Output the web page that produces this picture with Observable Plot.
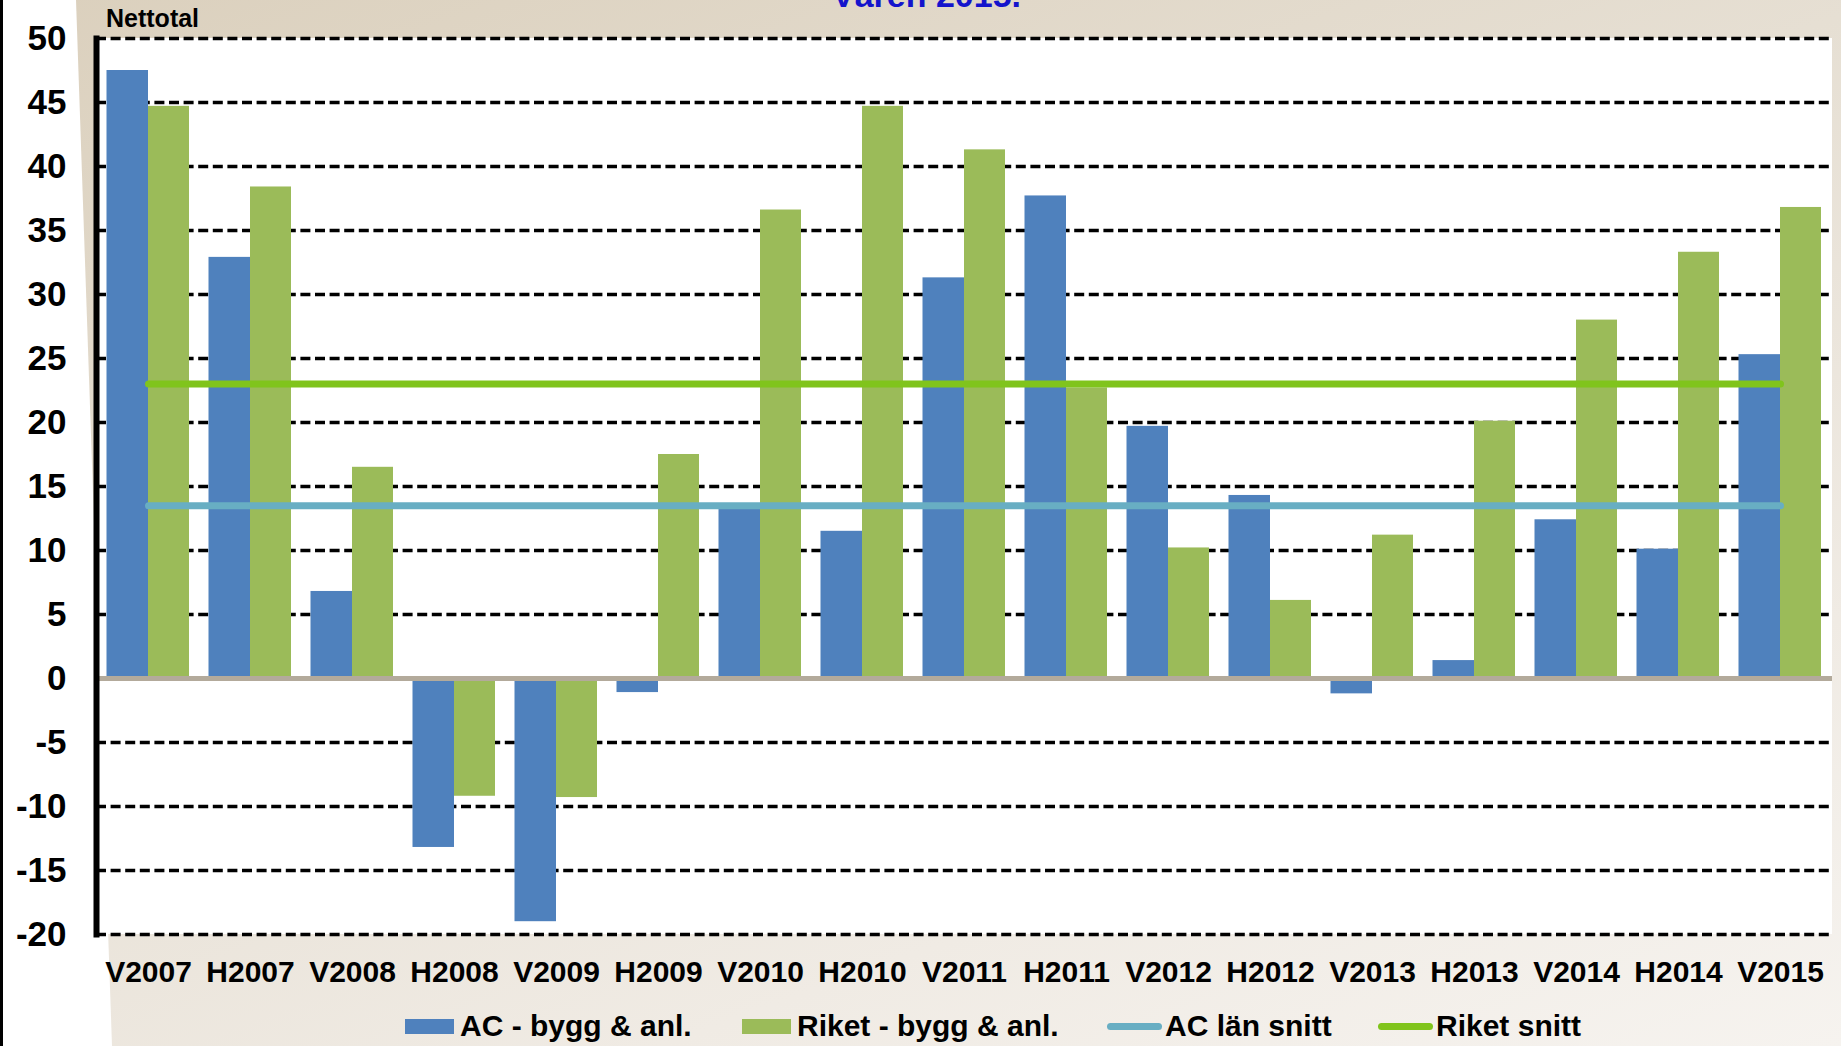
<!DOCTYPE html>
<html>
<head>
<meta charset="utf-8">
<script src="https://cdn.jsdelivr.net/npm/d3@7"></script>
<script src="https://cdn.jsdelivr.net/npm/@observablehq/plot@0.6"></script>
<style>
  html, body { margin: 0; padding: 0; }
  body { width: 1841px; height: 1046px; overflow: hidden; position: relative; background: #fff;
         font-family: "Liberation Sans", Arial, sans-serif; }
  #bg { position: absolute; left: 0; top: 0; width: 1841px; height: 1046px;
        background: linear-gradient(160deg, #dbd0bd 0%, #e6dfd3 40%, #f0ebe4 75%, #f6f3ef 100%);
        clip-path: polygon(76px 0, 1841px 0, 1841px 1046px, 112px 1046px); }
  #plotbg { position: absolute; left: 96px; top: 38px; width: 1736px; height: 896px; background: #fff; }
  #leftline { position: absolute; left: 0; top: 0; width: 3px; height: 1046px; background: #000; }
  #chart { position: absolute; left: 0; top: 0; }
  .txt { position: absolute; font-weight: bold; line-height: 1; white-space: nowrap; }
  .sw { position: absolute; }
</style>
</head>
<body>
<div id="bg"></div>
<div id="plotbg"></div>
<div id="leftline"></div>
<div id="chart"></div>
<div class="txt" style="left:832px; top:-22px; font-size:34px; color:#1414cc;">Våren 2015.</div>
<div class="txt" style="left:106px; top:6px; font-size:25px; color:#000;">Nettotal</div>
<div id="legend"></div>
<script>
const categories = ["V2007","H2007","V2008","H2008","V2009","H2009","V2010","H2010","V2011","H2011","V2012","H2012","V2013","H2013","V2014","H2014","V2015"];
const acValues    = [47.5, 32.9, 6.8, -13.2, -19.0, -1.1, 13.3, 11.5, 31.3, 37.7, 19.7, 14.3, -1.2, 1.4, 12.4, 10.1, 25.3];
const riketValues = [44.7, 38.4, 16.5, -9.2, -9.3, 17.5, 36.6, 44.7, 41.3, 22.7, 10.2, 6.1, 11.2, 20.1, 28.0, 33.3, 36.8];
const acMean = 13.5;
const riketMean = 23.0;
const yTicks = [-20, -15, -10, -5, 0, 5, 10, 15, 20, 25, 30, 35, 40, 45, 50];
const seriesNames = ["AC - bygg & anl.", "Riket - bygg & anl.", "AC län snitt", "Riket snitt"];

const blue = "#4f81bd", green = "#9bbb59", acLine = "#68aec3", riketLine = "#80c41c";

const data = categories.map((c, i) => ({cat: c, ac: acValues[i], riket: riketValues[i]}));

const chart = Plot.plot({
  width: 1841,
  height: 1046,
  marginLeft: 96,
  marginRight: 9,
  marginTop: 38,
  marginBottom: 112,
  style: {background: "transparent", overflow: "visible", fontFamily: "'Liberation Sans', Arial, sans-serif", fontWeight: "bold", color: "#000"},
  x: {type: "band", domain: categories, padding: 0},
  y: {domain: [-20, 50]},
  marks: [
    Plot.ruleY(yTicks.filter(d => d !== 0), {stroke: "#000", strokeWidth: 3.5, strokeDasharray: "10,4.6"}),
    Plot.barY(data, {x: "cat", y: "ac", fill: blue, insetLeft: 9.5, insetRight: 51}),
    Plot.barY(data, {x: "cat", y: "riket", fill: green, insetLeft: 51, insetRight: 10}),
    Plot.ruleY([0], {stroke: "#b3aa9b", strokeWidth: 5}),
    Plot.lineY(categories, {x: d => d, y: () => acMean, stroke: acLine, strokeWidth: 7, strokeLinecap: "round"}),
    Plot.lineY(categories, {x: d => d, y: () => riketMean, stroke: riketLine, strokeWidth: 7, strokeLinecap: "round"}),
    Plot.frame({anchor: "left", stroke: "#000", strokeWidth: 6}),
    Plot.axisY({ticks: yTicks, tickSize: 0, tickPadding: 30, fontSize: 35, fontWeight: "bold", tickFormat: d => String(d), label: null}),
    Plot.axisX({tickSize: 0, tickPadding: 26, fontSize: 30, fontWeight: "bold", label: null})
  ]
});
document.getElementById("chart").appendChild(chart);

// legend
const legend = document.getElementById("legend");
const items = [
  {name: seriesNames[0], type: "rect", color: blue, sx: 405, tx: 460},
  {name: seriesNames[1], type: "rect", color: green, sx: 742, tx: 797},
  {name: seriesNames[2], type: "line", color: acLine, sx: 1107, tx: 1165},
  {name: seriesNames[3], type: "line", color: riketLine, sx: 1378, tx: 1436}
];
for (const it of items) {
  const sw = document.createElement("div");
  sw.className = "sw";
  if (it.type === "rect") {
    Object.assign(sw.style, {left: it.sx + "px", top: "1019px", width: "49px", height: "15px", background: it.color});
  } else {
    Object.assign(sw.style, {left: it.sx + "px", top: "1023px", width: "55px", height: "7px", background: it.color, borderRadius: "4px"});
  }
  legend.appendChild(sw);
  const t = document.createElement("div");
  t.className = "txt";
  Object.assign(t.style, {left: it.tx + "px", top: "1011px", fontSize: "30px", color: "#000"});
  t.textContent = it.name;
  legend.appendChild(t);
}
</script>
</body>
</html>
